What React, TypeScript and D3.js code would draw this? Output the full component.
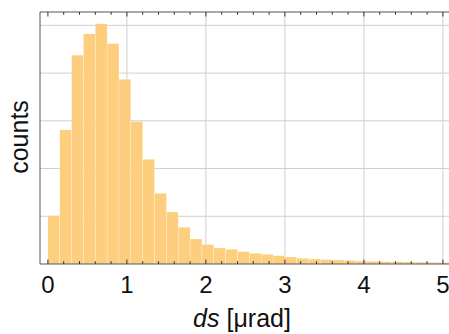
import React from "react";
import * as d3 from "d3";

const binWidth = 0.15;
const binStarts: number[] = Array.from({ length: 34 }, (_, i) => +(i * 0.15).toFixed(2));
const counts: number[] = [
  506, 1405, 2188, 2411, 2516, 2309, 1936, 1492, 1097, 741,
  545, 385, 262, 204, 168, 154, 129, 112, 102, 87,
  73, 60, 52, 47, 42, 37, 31, 28, 24, 24,
  21, 19, 18, 16,
];
const xTicks: number[] = [0, 1, 2, 3, 4, 5];
const yGrid: number[] = [500, 1000, 1500, 2000, 2500];

export default function App() {
  const W = 449, H = 334;
  const left = 40, top = 12, bottom = 264;
  const x = d3.scaleLinear().domain([-0.1, 5.1]).range([left, left + 5.2 * 79]);
  const y = d3.scaleLinear().domain([0, 2640]).range([bottom, top]);
  const minor = d3.range(0, 5.11, 0.2).map((v) => +v.toFixed(2));
  const fill = "#FDCE7E";
  const frame = "#555";
  const grid = "#cfcfcf";
  const font = "'Liberation Sans', Arial, sans-serif";
  return (
    <svg width={W} height={H} style={{ position: "absolute", left: 0, top: 0 }}>
      <rect x={0} y={0} width={W} height={H} fill="#fff" />
      {xTicks.slice(1).map((t) => (
        <line key={"gx" + t} x1={x(t)} x2={x(t)} y1={top} y2={bottom} stroke={grid} strokeWidth={1} />
      ))}
      {yGrid.map((g) => (
        <line key={"gy" + g} x1={left} x2={W} y1={y(g)} y2={y(g)} stroke={grid} strokeWidth={1} />
      ))}
      {counts.map((c, i) => (
        <rect
          key={"b" + i}
          x={x(binStarts[i])}
          y={y(c)}
          width={x(binStarts[i] + binWidth) - x(binStarts[i])}
          height={bottom - y(c)}
          fill={fill}
          stroke="#fff"
          strokeOpacity={0.6}
          strokeWidth={0.4}
        />
      ))}
      <line x1={left} x2={left} y1={top} y2={bottom} stroke={frame} strokeWidth={1} />
      <line x1={left} x2={W} y1={top} y2={top} stroke={frame} strokeWidth={1} />
      <line x1={left} x2={W} y1={bottom} y2={bottom} stroke={frame} strokeWidth={1} />
      {minor.map((t) => {
        const major = Math.abs(t - Math.round(t)) < 1e-6;
        const len = major ? 4.5 : 2.8;
        return (
          <g key={"t" + t}>
            <line x1={x(t)} x2={x(t)} y1={bottom} y2={bottom - len} stroke="#333" strokeWidth={1} />
            <line x1={x(t)} x2={x(t)} y1={top} y2={top + len} stroke="#333" strokeWidth={1} />
          </g>
        );
      })}
      {xTicks.map((t) => (
        <text key={"l" + t} x={x(t)} y={292.5} textAnchor="middle" fontFamily={font} fontSize={24} fill="#111">
          {t}
        </text>
      ))}
      <text x={242} y={327} textAnchor="middle" fontFamily={font} fontSize={25} fill="#111">
        <tspan fontStyle="italic">ds</tspan> [μrad]
      </text>
      <text
        transform={`translate(27.5,137) rotate(-90)`}
        textAnchor="middle"
        fontFamily={font}
        fontSize={25}
        fill="#111"
      >
        counts
      </text>
    </svg>
  );
}
